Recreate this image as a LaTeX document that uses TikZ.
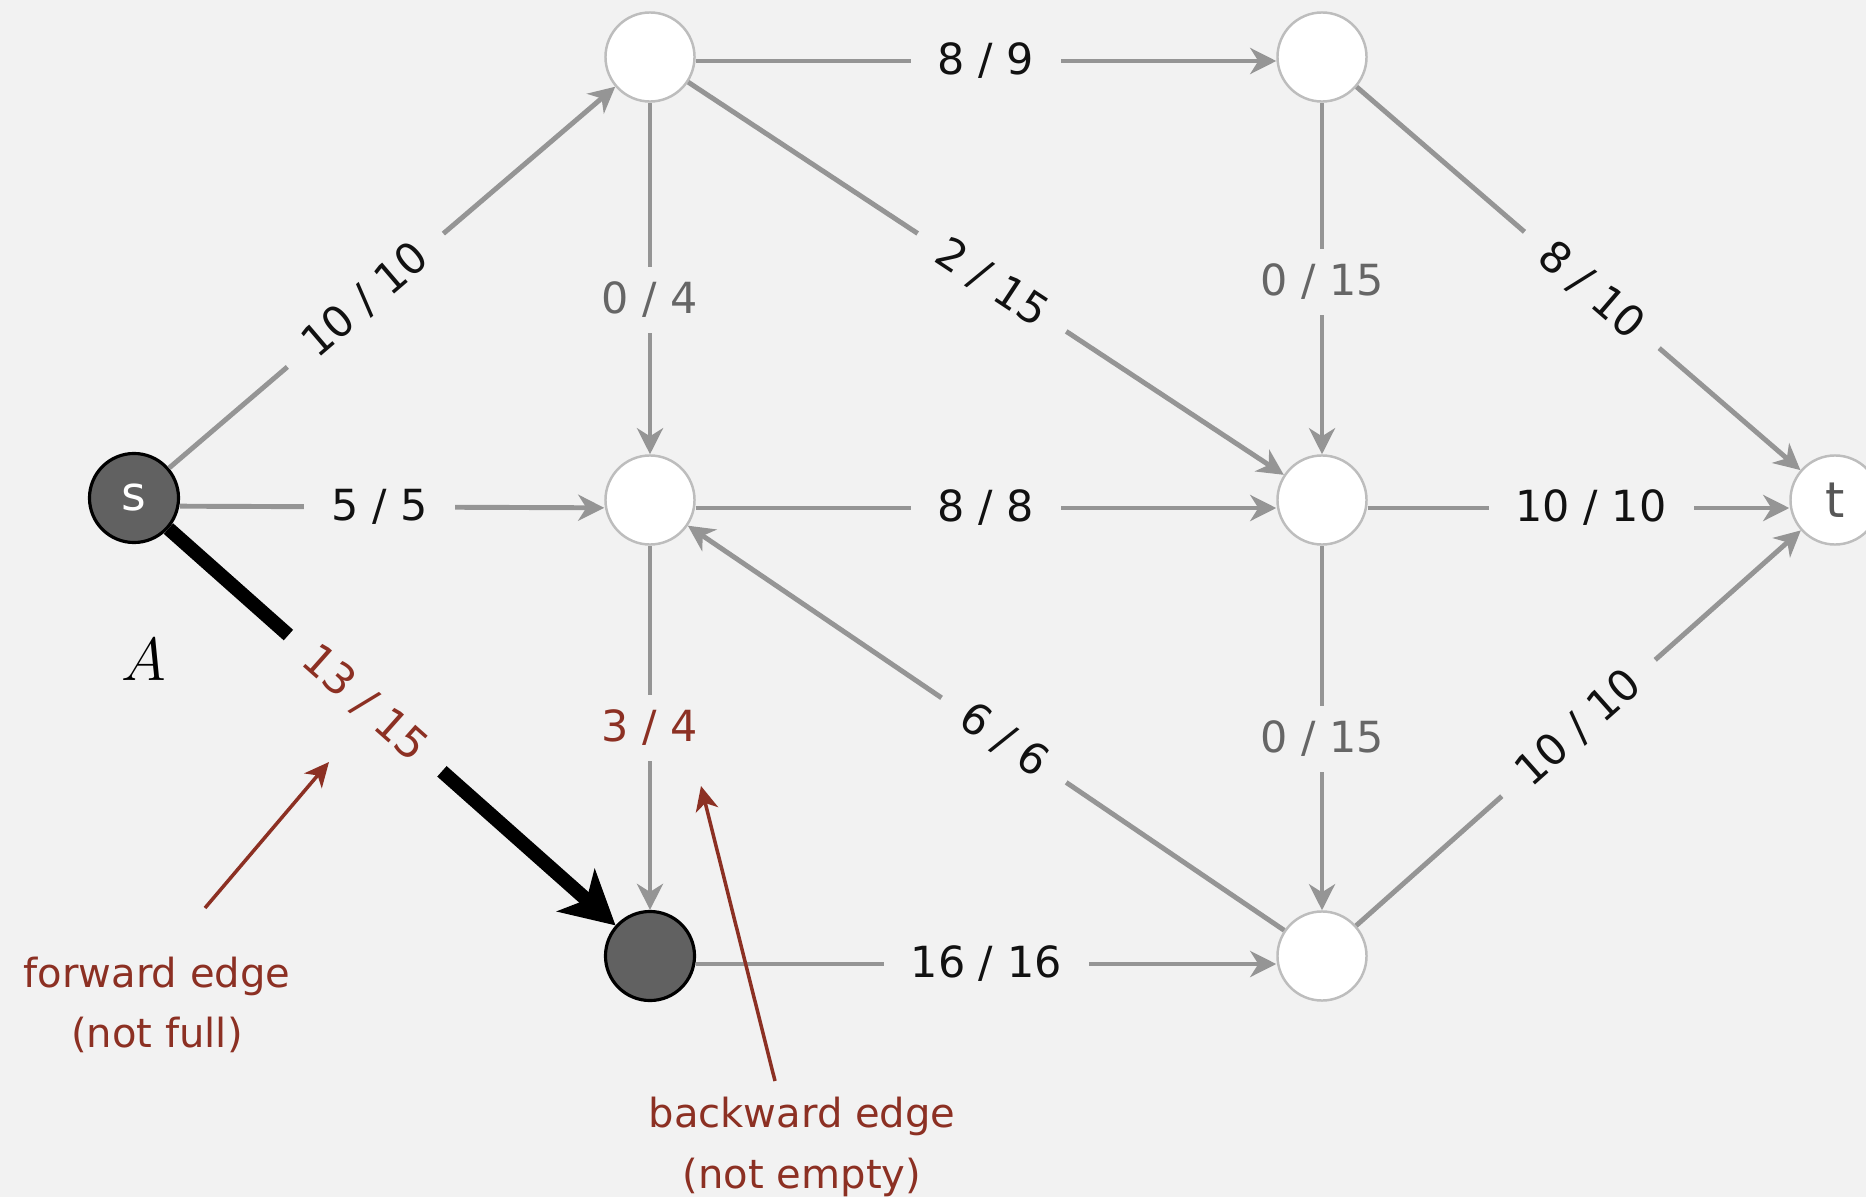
\documentclass[tikz,border=0pt]{standalone}
\usepackage{fontspec}
\setmainfont{DejaVu Sans}
\usetikzlibrary{arrows.meta}
\definecolor{bg}{HTML}{F2F2F2}
\definecolor{edgegray}{HTML}{959595}
\definecolor{ring}{HTML}{BDBDBD}
\definecolor{ink}{HTML}{111111}
\definecolor{ink2}{HTML}{666666}
\definecolor{rust}{HTML}{8C3023}
\definecolor{cutfill}{HTML}{616161}
\tikzset{
  vtx/.style={circle, draw=ring, line width=0.7pt, fill=white, minimum size=0.89cm, inner sep=0pt},
  cutvtx/.style={vtx, draw=black, line width=0.9pt, fill=cutfill},
  flow/.style={-{Stealth[length=7.4pt,width=7.4pt,inset=2.3pt]}, line width=1.4pt, color=edgegray},
  low/.style={transform canvas={yshift=-0.08cm}},
  fwd/.style={-{Stealth[length=15pt,width=16pt,inset=4pt]}, line width=4pt, color=black},
  callout/.style={-{Stealth[length=7pt,width=6.5pt,inset=2pt]}, line width=1pt, color=rust},
  elab/.style={font=\fontsize{12.2pt}{14pt}\selectfont, text=ink, fill=bg,
    inner xsep=0.27cm, inner ysep=0.15cm},
  nlab/.style={font=\fontsize{11.4pt}{17.2pt}\selectfont, text=rust, align=center},
}

\begin{document}
\begin{tikzpicture}[x=0.01cm, y=-0.01cm]
  \useasboundingbox (0,0) rectangle (1866,1197);
  \fill[bg] (0,0) rectangle (1866,1197);

  % vertices
  \node[cutvtx, text=white, font=\fontsize{13.5pt}{15pt}\selectfont] (s) at (134,498) {s};
  \node[vtx] (u1) at (650,57) {};
  \node[vtx] (u2) at (650,500) {};
  \node[cutvtx] (u3) at (650,956) {};
  \node[vtx] (w1) at (1322,57) {};
  \node[vtx] (w2) at (1322,500) {};
  \node[vtx] (w3) at (1322,956) {};
  \node[vtx, text=ink2!85!black, font=\fontsize{14pt}{16pt}\selectfont] (t) at (1835,500) {t};
  \node (cutA) at (144,660) {\fontsize{19pt}{22pt}\selectfont $A$};

  % edges
  \draw[flow] (s) -- node[elab, sloped, pos=0.44] {10 / 10} (u1);
  \draw[flow, low] (s) -- node[elab, pos=0.47] {5 / 5} (u2);
  \draw[fwd] (s) -- node[elab, sloped, pos=0.44, text=rust] (fwdlab) {13 / 15} (u3);
  \draw[flow, transform canvas={yshift=-0.04cm}] (u1) -- node[elab] {8 / 9} (w1);
  \draw[flow] (u1) -- node[elab, text=ink2, pos=0.56] {0 / 4} (u2);
  \draw[flow] (u1) -- node[elab, sloped, pos=0.51] {2 / 15} (w2);
  \draw[flow, low] (u2) -- node[elab] {8 / 8} (w2);
  \draw[flow] (u2) -- node[elab, text=rust] (bwdlab) {3 / 4} (u3);
  \draw[flow] (w3) -- node[elab, sloped, pos=0.47] {6 / 6} (u2);
  \draw[flow, low] (u3) -- node[elab] {16 / 16} (w3);
  \draw[flow] (w1) -- node[elab, text=ink2, pos=0.51] {0 / 15} (w2);
  \draw[flow] (w1) -- node[elab, sloped, pos=0.53] {8 / 10} (t);
  \draw[flow, low] (w2) -- node[elab, pos=0.53] {10 / 10} (t);
  \draw[flow] (w2) -- node[elab, text=ink2, pos=0.53] {0 / 15} (w3);
  \draw[flow] (w3) -- node[elab, sloped] {10 / 10} (t);

  % notes
  \node[nlab] (fwdtxt) at (157,1005) {forward edge\\(not full)};
  \node[nlab] (bwdtxt) at (802,1147) {backward edge\\(not empty)};
  \coordinate (fwdtail) at (205,908);
  \coordinate (fwdtip) at (329,762);
  \coordinate (bwdtail) at (775,1081);
  \coordinate (bwdtip) at (701,786);
  \draw[callout] (fwdtail) -- (fwdtip);
  \draw[callout] (bwdtail) -- (bwdtip);
\end{tikzpicture}
\end{document}
